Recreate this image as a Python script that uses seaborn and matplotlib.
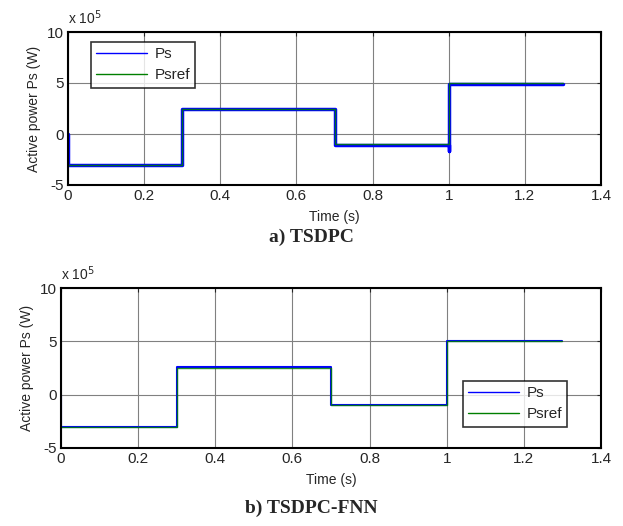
import matplotlib
matplotlib.use("Agg")
import matplotlib.pyplot as plt
from matplotlib.lines import Line2D
import seaborn as sns

# values in units of 1e5 W
t_ref = [0, 0.3, 0.3, 0.7, 0.7, 1.0, 1.0, 1.3]
p_ref = [-3.0, -3.0, 2.5, 2.5, -1.0, -1.0, 5.0, 5.0]

# TSDPC measured Ps
t_ps_a = [0, 0, 0.3, 0.3, 0.7, 0.7, 1.0, 1.0, 1.0, 1.3]
p_ps_a = [0.0, -3.05, -3.05, 2.5, 2.5, -1.05, -1.05, -1.7, 4.95, 4.95]

# TSDPC-FNN measured Ps
t_ps_b = [0, 0, 0.3, 0.3, 0.7, 0.7, 1.0, 1.0, 1.3]
p_ps_b = [0.0, -3.0, -3.0, 2.55, 2.55, -1.0, -1.0, 5.02, 5.02]

x_ticks = [0, 0.2, 0.4, 0.6, 0.8, 1.0, 1.2, 1.4]
x_labels = ["0", "0.2", "0.4", "0.6", "0.8", "1", "1.2", "1.4"]
y_ticks = [-5, 0, 5, 10]

sns.set_style("white")
plt.rcParams['font.family'] = ['Liberation Sans', 'DejaVu Sans']
plt.rcParams['axes.unicode_minus'] = False

fig = plt.figure(figsize=(6.23, 5.26), dpi=100)
W, H = 623, 526
ax_a = fig.add_axes([68 / W, 1 - 185 / H, (601 - 68) / W, (185 - 32) / H])
ax_b = fig.add_axes([61 / W, 1 - 448 / H, (601 - 61) / W, (448 - 288) / H])


def draw(ax, t_ps, p_ps, lw_ps, legend_pos):
    sns.lineplot(x=t_ps, y=p_ps, ax=ax, color='#0000ff', linewidth=lw_ps,
                 estimator=None, sort=False)
    sns.lineplot(x=t_ref, y=p_ref, ax=ax, color='#007f00', linewidth=1.0,
                 estimator=None, sort=False, alpha=0.85)
    ax.set_xlim(0, 1.4)
    ax.set_ylim(-5, 10)
    ax.set_xticks(x_ticks)
    ax.set_xticklabels(x_labels)
    ax.set_yticks(y_ticks)
    ax.grid(True, color='#808080', linewidth=0.8)
    ax.tick_params(direction='in', top=True, right=True, labelsize=11, length=3, pad=3)
    for s in ax.spines.values():
        s.set_color('black')
        s.set_linewidth(1.5)
    ax.set_xlabel('Time (s)', fontsize=10, labelpad=5)
    ax.set_ylabel('Active power Ps (W)', fontsize=10)
    ax.text(0, 1.03, r'x 10$^5$', transform=ax.transAxes, fontsize=10,
            ha='left', va='bottom')
    handles = [Line2D([], [], color='#0000ff', linewidth=1.0),
               Line2D([], [], color='#007f00', linewidth=1.0)]
    leg = ax.legend(handles, ['Ps', 'Psref'], loc='upper left',
                    bbox_to_anchor=legend_pos, fontsize=11,
                    frameon=True, fancybox=False, handlelength=3.3,
                    borderpad=0.35, labelspacing=0.45, handletextpad=0.5,
                    borderaxespad=0)
    leg.get_frame().set_edgecolor('black')
    leg.get_frame().set_linewidth(1.2)


draw(ax_a, t_ps_a, p_ps_a, 2.5, ((91 - 68) / 533, (185 - 42) / 153))
draw(ax_b, t_ps_b, p_ps_b, 1.5, ((463 - 61) / 540, (448 - 381) / 160))

fig.text(0.5, 1 - 237 / H, 'a) TSDPC', ha='center', va='center', fontsize=14,
         fontweight='bold', family='Liberation Serif')
fig.text(0.5, 1 - 508 / H, 'b) TSDPC-FNN', ha='center', va='center', fontsize=14,
         fontweight='bold', family='Liberation Serif')

fig.savefig('out.png', dpi=100)
